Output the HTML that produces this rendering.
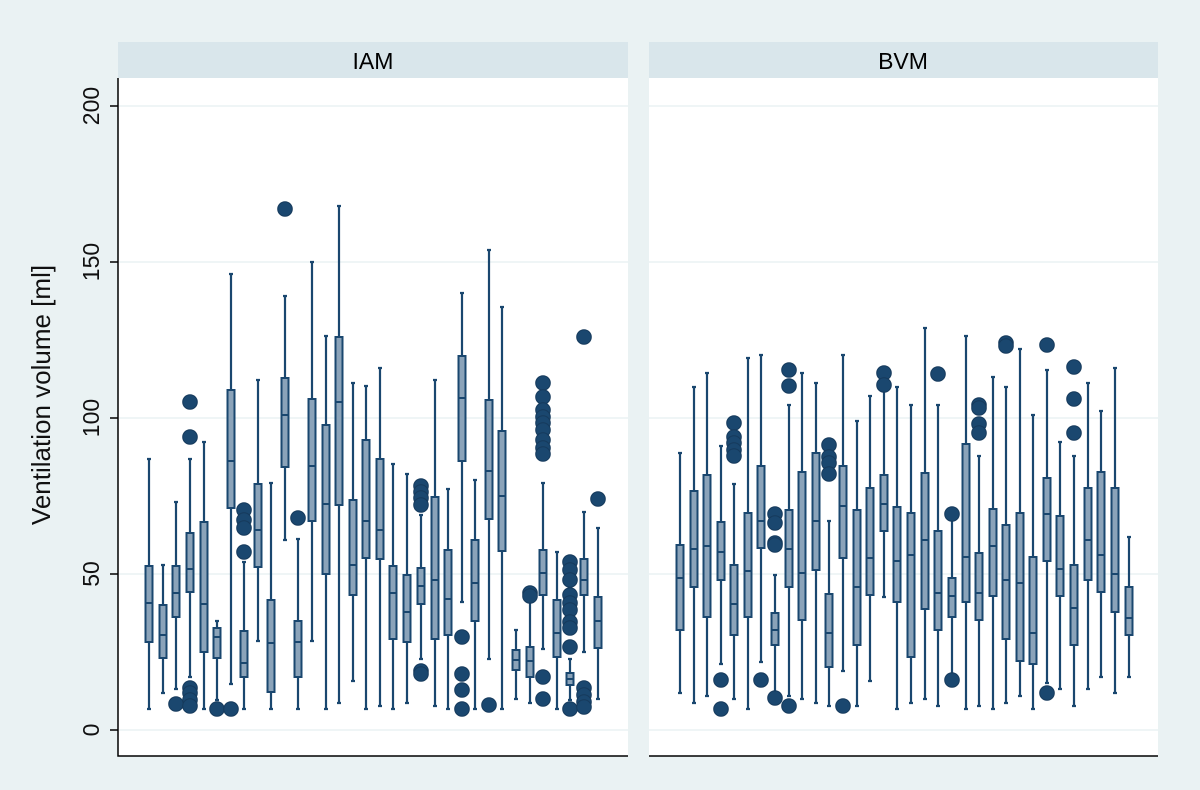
<!DOCTYPE html>
<html><head><meta charset="utf-8"><style>
html,body{margin:0;padding:0;background:#eaf2f3;}
svg{display:block;font-family:"Liberation Sans",sans-serif;}
</style></head><body>
<svg width="1200" height="790" viewBox="0 0 1200 790" xmlns="http://www.w3.org/2000/svg">
<rect width="1200" height="790" fill="#eaf2f3"/>
<rect x="118" y="42" width="510" height="36" fill="#d9e6eb"/>
<rect x="649" y="42" width="509" height="36" fill="#d9e6eb"/>
<rect x="118" y="78" width="510" height="678" fill="#fff"/>
<rect x="649" y="78" width="509" height="678" fill="#fff"/>
<text x="373" y="69" font-size="23" text-anchor="middle" fill="#000">IAM</text>
<text x="903" y="69" font-size="23" text-anchor="middle" fill="#000">BVM</text>
<g stroke="#eaf2f3" stroke-width="1.5">
<path d="M119 730H628M119 574H628M119 418H628M119 262H628M119 106H628"/>
<path d="M649 730H1158M649 574H1158M649 418H1158M649 262H1158M649 106H1158"/>
</g>
<g stroke="#000" stroke-width="1.5" fill="none">
<path d="M118 78V756H628"/>
<path d="M649 756H1158"/>
<path d="M110 730H118M110 574H118M110 418H118M110 262H118M110 106H118"/>
</g>
<g font-size="23" fill="#111" text-anchor="middle">
<text transform="translate(99,730) rotate(-90)">0</text>
<text transform="translate(99,574) rotate(-90)">50</text>
<text transform="translate(99,418) rotate(-90)">100</text>
<text transform="translate(99,262) rotate(-90)">150</text>
<text transform="translate(99,106) rotate(-90)">200</text>
<text transform="translate(50,395) rotate(-90)" font-size="26">Ventilation volume [ml]</text>
</g>
<g stroke="#1a476f" stroke-width="2.2" fill="none">
<path d="M149 459V709M147 459h4M147 709h4 M163 565V693M161 565h4M161 693h4 M176 502V689M174 502h4M174 689h4 M190 459V677M188 459h4M188 677h4 M204 442V709M202 442h4M202 709h4 M217 621V700M215 621h4M215 700h4 M231 274V684M229 274h4M229 684h4 M244 562V709M242 562h4M242 709h4 M258 380V641M256 380h4M256 641h4 M271 483V709M269 483h4M269 709h4 M285 296V540M283 296h4M283 540h4 M298 539V709M296 539h4M296 709h4 M312 262V641M310 262h4M310 641h4 M326 336V709M324 336h4M324 709h4 M339 206V703M337 206h4M337 703h4 M353 383V681M351 383h4M351 681h4 M366 386V709M364 386h4M364 709h4 M380 368V706M378 368h4M378 706h4 M393 464V709M391 464h4M391 709h4 M407 474V703M405 474h4M405 703h4 M421 515V659M419 515h4M419 659h4 M435 380V706M433 380h4M433 706h4 M448 489V709M446 489h4M446 709h4 M462 293V602M460 293h4M460 602h4 M475 480V709M473 480h4M473 709h4 M489 250V659M487 250h4M487 659h4 M502 307V709M500 307h4M500 709h4 M516 630V699M514 630h4M514 699h4 M530 596V703M528 596h4M528 703h4 M543 483V649M541 483h4M541 649h4 M557 552V709M555 552h4M555 709h4 M570 659V700M568 659h4M568 700h4 M584 512V652M582 512h4M582 652h4 M598 528V699M596 528h4M596 699h4"/>
<path d="M680 453V693M678 453h4M678 693h4 M694 387V703M692 387h4M692 703h4 M707 373V696M705 373h4M705 696h4 M721 446V664M719 446h4M719 664h4 M734 484V699M732 484h4M732 699h4 M748 358V709M746 358h4M746 709h4 M761 355V662M759 355h4M759 662h4 M775 575V697M773 575h4M773 697h4 M789 405V696M787 405h4M787 696h4 M802 373V699M800 373h4M800 699h4 M816 383V703M814 383h4M814 703h4 M829 521V706M827 521h4M827 706h4 M843 355V671M841 355h4M841 671h4 M857 421V706M855 421h4M855 706h4 M870 396V681M868 396h4M868 681h4 M884 385V597M882 385h4M882 597h4 M897 387V709M895 387h4M895 709h4 M911 405V703M909 405h4M909 703h4 M925 328V699M923 328h4M923 699h4 M938 405V706M936 405h4M936 706h4 M952 515V680M950 515h4M950 680h4 M966 336V709M964 336h4M964 709h4 M979 456V706M977 456h4M977 706h4 M993 377V709M991 377h4M991 709h4 M1006 387V703M1004 387h4M1004 703h4 M1020 349V696M1018 349h4M1018 696h4 M1033 415V709M1031 415h4M1031 709h4 M1047 370V683M1045 370h4M1045 683h4 M1060 442V689M1058 442h4M1058 689h4 M1074 456V706M1072 456h4M1072 706h4 M1088 383V689M1086 383h4M1086 689h4 M1101 411V677M1099 411h4M1099 677h4 M1115 368V693M1113 368h4M1113 693h4 M1129 537V677M1127 537h4M1127 677h4"/>
</g>
<g fill="#8ba3b9" stroke="#1a476f" stroke-width="2">
<rect x="145.5" y="566" width="7" height="76"/><rect x="159.5" y="605" width="7" height="53"/><rect x="172.5" y="566" width="7" height="51"/><rect x="186.5" y="533" width="7" height="59"/><rect x="200.5" y="522" width="7" height="130"/><rect x="213.5" y="628" width="7" height="30"/><rect x="227.5" y="390" width="7" height="118"/><rect x="240.5" y="631" width="7" height="46"/><rect x="254.5" y="484" width="7" height="83"/><rect x="267.5" y="600" width="7" height="92"/><rect x="281.5" y="378" width="7" height="89"/><rect x="294.5" y="621" width="7" height="56"/><rect x="308.5" y="399" width="7" height="122"/><rect x="322.5" y="425" width="7" height="149"/><rect x="335.5" y="337" width="7" height="168"/><rect x="349.5" y="500" width="7" height="95"/><rect x="362.5" y="440" width="7" height="118"/><rect x="376.5" y="459" width="7" height="100"/><rect x="389.5" y="566" width="7" height="73"/><rect x="403.5" y="575" width="7" height="67"/><rect x="417.5" y="568" width="7" height="36"/><rect x="431.5" y="497" width="7" height="142"/><rect x="444.5" y="550" width="7" height="85"/><rect x="458.5" y="356" width="7" height="105"/><rect x="471.5" y="540" width="7" height="81"/><rect x="485.5" y="400" width="7" height="119"/><rect x="498.5" y="431" width="7" height="120"/><rect x="512.5" y="650" width="7" height="20"/><rect x="526.5" y="647" width="7" height="30"/><rect x="539.5" y="550" width="7" height="45"/><rect x="553.5" y="600" width="7" height="57"/><rect x="566.5" y="673" width="7" height="12"/><rect x="580.5" y="559" width="7" height="36"/><rect x="594.5" y="597" width="7" height="51"/>
<rect x="676.5" y="545" width="7" height="85"/><rect x="690.5" y="491" width="7" height="96"/><rect x="703.5" y="475" width="7" height="142"/><rect x="717.5" y="522" width="7" height="58"/><rect x="730.5" y="565" width="7" height="70"/><rect x="744.5" y="513" width="7" height="104"/><rect x="757.5" y="466" width="7" height="82"/><rect x="771.5" y="613" width="7" height="32"/><rect x="785.5" y="510" width="7" height="77"/><rect x="798.5" y="472" width="7" height="148"/><rect x="812.5" y="453" width="7" height="117"/><rect x="825.5" y="594" width="7" height="73"/><rect x="839.5" y="466" width="7" height="92"/><rect x="853.5" y="510" width="7" height="135"/><rect x="866.5" y="488" width="7" height="107"/><rect x="880.5" y="475" width="7" height="56"/><rect x="893.5" y="507" width="7" height="95"/><rect x="907.5" y="513" width="7" height="144"/><rect x="921.5" y="473" width="7" height="136"/><rect x="934.5" y="531" width="7" height="99"/><rect x="948.5" y="578" width="7" height="39"/><rect x="962.5" y="444" width="7" height="158"/><rect x="975.5" y="553" width="7" height="67"/><rect x="989.5" y="509" width="7" height="87"/><rect x="1002.5" y="525" width="7" height="114"/><rect x="1016.5" y="513" width="7" height="148"/><rect x="1029.5" y="557" width="7" height="107"/><rect x="1043.5" y="478" width="7" height="83"/><rect x="1056.5" y="516" width="7" height="80"/><rect x="1070.5" y="565" width="7" height="80"/><rect x="1084.5" y="488" width="7" height="92"/><rect x="1097.5" y="472" width="7" height="120"/><rect x="1111.5" y="488" width="7" height="124"/><rect x="1125.5" y="587" width="7" height="48"/>
</g>
<g stroke="#1a476f" stroke-width="2" fill="none">
<path d="M145 603h8M159 635h8M172 593h8M186 569h8M200 604h8M213 637h8M227 461h8M240 663h8M254 530h8M267 643h8M281 415h8M294 642h8M308 466h8M322 504h8M335 402h8M349 565h8M362 521h8M376 530h8M389 593h8M403 612h8M417 586h8M431 580h8M444 599h8M458 398h8M471 583h8M485 471h8M498 496h8M512 660h8M526 661h8M539 573h8M553 633h8M566 679h8M580 580h8M594 621h8"/>
<path d="M676 578h8M690 549h8M703 546h8M717 552h8M730 604h8M744 571h8M757 521h8M771 630h8M785 549h8M798 573h8M812 521h8M825 633h8M839 506h8M853 587h8M866 558h8M880 504h8M893 561h8M907 555h8M921 540h8M934 593h8M948 596h8M962 557h8M975 593h8M989 546h8M1002 580h8M1016 583h8M1029 633h8M1043 514h8M1056 569h8M1070 608h8M1084 540h8M1097 555h8M1111 574h8M1125 618h8"/>
</g>
<g fill="#1a476f" stroke="#163a5c" stroke-width="1">
<circle cx="176" cy="704" r="7.3"/>
<circle cx="190" cy="402" r="7.3"/><circle cx="190" cy="437" r="7.3"/><circle cx="190" cy="688" r="7.3"/><circle cx="190" cy="693" r="7.3"/><circle cx="190" cy="700" r="7.3"/><circle cx="190" cy="706" r="7.3"/>
<circle cx="217" cy="709" r="7.3"/><circle cx="231" cy="709" r="7.3"/>
<circle cx="244" cy="510" r="7.3"/><circle cx="244" cy="520" r="7.3"/><circle cx="244" cy="528" r="7.3"/><circle cx="244" cy="552" r="7.3"/>
<circle cx="285" cy="209" r="7.3"/><circle cx="298" cy="518" r="7.3"/>
<circle cx="421" cy="486" r="7.3"/><circle cx="421" cy="492" r="7.3"/><circle cx="421" cy="498" r="7.3"/><circle cx="421" cy="505" r="7.3"/><circle cx="421" cy="671" r="7.3"/><circle cx="421" cy="674" r="7.3"/>
<circle cx="462" cy="637" r="7.3"/><circle cx="462" cy="674" r="7.3"/><circle cx="462" cy="690" r="7.3"/><circle cx="462" cy="709" r="7.3"/>
<circle cx="489" cy="705" r="7.3"/>
<circle cx="530" cy="593" r="7.3"/><circle cx="530" cy="596" r="7.3"/>
<circle cx="543" cy="383" r="7.3"/><circle cx="543" cy="397" r="7.3"/><circle cx="543" cy="410" r="7.3"/><circle cx="543" cy="417" r="7.3"/><circle cx="543" cy="423" r="7.3"/><circle cx="543" cy="430" r="7.3"/><circle cx="543" cy="440" r="7.3"/><circle cx="543" cy="448" r="7.3"/><circle cx="543" cy="454" r="7.3"/><circle cx="543" cy="677" r="7.3"/><circle cx="543" cy="699" r="7.3"/>
<circle cx="570" cy="562" r="7.3"/><circle cx="570" cy="570" r="7.3"/><circle cx="570" cy="580" r="7.3"/><circle cx="570" cy="595" r="7.3"/><circle cx="570" cy="603" r="7.3"/><circle cx="570" cy="610" r="7.3"/><circle cx="570" cy="622" r="7.3"/><circle cx="570" cy="628" r="7.3"/><circle cx="570" cy="647" r="7.3"/><circle cx="570" cy="709" r="7.3"/>
<circle cx="584" cy="337" r="7.3"/><circle cx="584" cy="688" r="7.3"/><circle cx="584" cy="695" r="7.3"/><circle cx="584" cy="702" r="7.3"/><circle cx="584" cy="707" r="7.3"/>
<circle cx="598" cy="499" r="7.3"/>
<circle cx="721" cy="680" r="7.3"/><circle cx="721" cy="709" r="7.3"/>
<circle cx="734" cy="423" r="7.3"/><circle cx="734" cy="437" r="7.3"/><circle cx="734" cy="443" r="7.3"/><circle cx="734" cy="450" r="7.3"/><circle cx="734" cy="456" r="7.3"/>
<circle cx="761" cy="680" r="7.3"/>
<circle cx="775" cy="514" r="7.3"/><circle cx="775" cy="523" r="7.3"/><circle cx="775" cy="543" r="7.3"/><circle cx="775" cy="545" r="7.3"/><circle cx="775" cy="698" r="7.3"/>
<circle cx="789" cy="370" r="7.3"/><circle cx="789" cy="386" r="7.3"/><circle cx="789" cy="706" r="7.3"/>
<circle cx="829" cy="445" r="7.3"/><circle cx="829" cy="457" r="7.3"/><circle cx="829" cy="463" r="7.3"/><circle cx="829" cy="474" r="7.3"/>
<circle cx="843" cy="706" r="7.3"/>
<circle cx="884" cy="373" r="7.3"/><circle cx="884" cy="385" r="7.3"/>
<circle cx="938" cy="374" r="7.3"/>
<circle cx="952" cy="514" r="7.3"/><circle cx="952" cy="680" r="7.3"/>
<circle cx="979" cy="405" r="7.3"/><circle cx="979" cy="408" r="7.3"/><circle cx="979" cy="424" r="7.3"/><circle cx="979" cy="433" r="7.3"/>
<circle cx="1006" cy="343" r="7.3"/><circle cx="1006" cy="346" r="7.3"/>
<circle cx="1047" cy="345" r="7.3"/><circle cx="1047" cy="693" r="7.3"/>
<circle cx="1074" cy="367" r="7.3"/><circle cx="1074" cy="399" r="7.3"/><circle cx="1074" cy="433" r="7.3"/>
</g>
</svg>
</body></html>
